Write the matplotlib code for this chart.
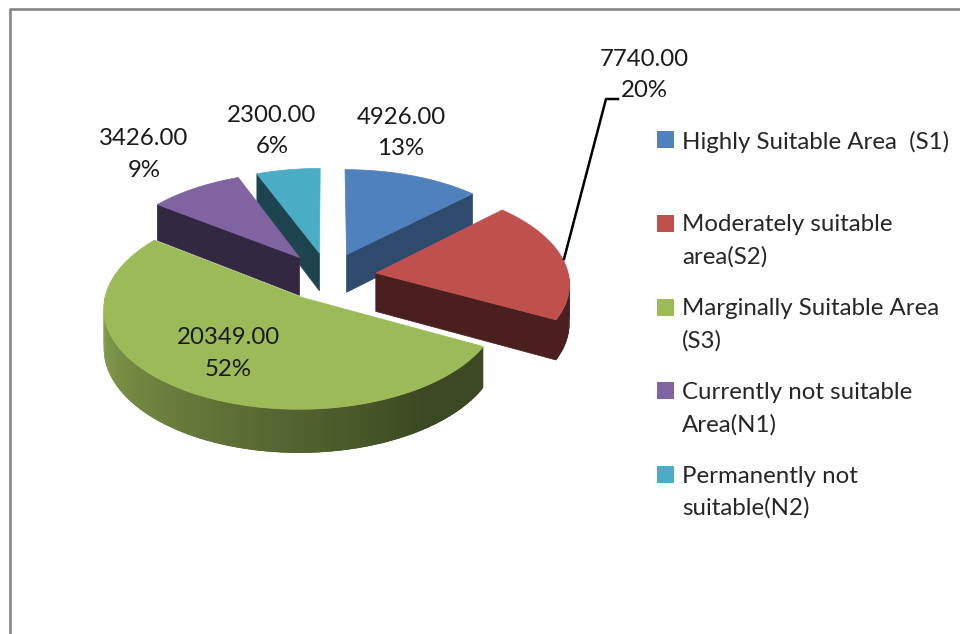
import numpy as np
import matplotlib
matplotlib.use('Agg')
import matplotlib.pyplot as plt
from matplotlib.colors import to_rgb

plt.rcParams['font.family'] = ['Lato', 'DejaVu Sans']

# chart data
labels = ['Highly Suitable Area  (S1)', 'Moderately suitable\narea(S2)',
          'Marginally Suitable Area\n(S3)', 'Currently not suitable\nArea(N1)',
          'Permanently not\nsuitable(N2)']
values = [4926.00, 7740.00, 20349.00, 3426.00, 2300.00]
percents = [13, 20, 52, 9, 6]
colors = ['#4F81BD', '#C0504D', '#9BBB59', '#8064A2', '#4BACC6']
cut_shade = [0.58, 0.39, 0.39, 0.40, 0.40]
label_pos = [(401, 133), (644, 75), (228, 353.5), (144, 154.5), (272, 131)]

# pie geometry in pixels
CX, CY = 328.2, 276.5
RX, RY = 193, 97
EXPLODE = 0.25
PERSP = 0.095
DEPTH = 38.5


def project(u, v, lower=False):
    p = 1 / (1 + PERSP * v)
    return CX + RX * u * p, CY - RY * v * p + (DEPTH * p if lower else 0)


def arc_shade(t):
    # front wall goes from dark on the right to light on the left
    return np.interp(t, [90, 145, 270], [0.39, 0.39, 0.88])


def shaded(color, s):
    return tuple(c * s for c in to_rgb(color))


fig = plt.figure(figsize=(9.6, 6.34), dpi=100)
ax = fig.add_axes([0, 0, 1, 1])
ax.set_xlim(0, 960)
ax.set_ylim(634, 0)
ax.axis('off')

# chart border, only top and left are inside the crop
ax.plot([960, 9.5, 9.5], [9, 9, 634], color='#868686', lw=1.9)

total = sum(values)
edges = np.concatenate([[0], np.cumsum(values) / total * 360])
slices = []
for i in range(len(values)):
    t1, t2 = edges[i], edges[i + 1]
    mid = np.radians((t1 + t2) / 2)
    slices.append((np.cos(mid), i, t1, t2, EXPLODE * np.sin(mid), EXPLODE * np.cos(mid)))

# back slices first
for _, i, t1, t2, ou, ov in sorted(slices, key=lambda s: -s[0]):
    col = colors[i]

    def rim(t):
        a = np.radians(t)
        return ou + np.sin(a), ov + np.cos(a)

    # cut faces
    for t, vis in ((t1, np.sin(np.radians(t1)) < -1e-6), (t2, np.sin(np.radians(t2)) > 1e-6)):
        if vis:
            u, v = rim(t)
            a, b = project(ou, ov), project(u, v)
            c, d = project(u, v, True), project(ou, ov, True)
            ax.fill([a[0], b[0], c[0], d[0]], [a[1], b[1], c[1], d[1]],
                    color=shaded(col, cut_shade[i]), lw=0.5)

    # outer wall, each strip overlaps the next one so no seams show
    lo, hi = max(t1, 90), min(t2, 270)
    if hi > lo:
        steps = np.linspace(lo, hi, int(hi - lo) + 2)
        for s1, s2 in zip(steps[:-1], steps[1:]):
            arc = np.linspace(s1, min(s2 + 1.5, hi), 5)
            us, vs = rim(arc)
            xt, yt = project(us, vs)
            xb, yb = project(us, vs, True)
            ax.fill(np.r_[xt, xb[::-1]], np.r_[yt, yb[::-1]],
                    color=shaded(col, arc_shade((s1 + s2) / 2)), lw=0)

    # top face
    ts = np.linspace(t1, t2, 120)
    us, vs = rim(ts)
    xs, ys = project(us, vs)
    tx, ty = project(ou, ov)
    ax.fill(np.r_[tx, xs], np.r_[ty, ys], color=col, lw=0.5)

# data labels
for v, pct, (x, y) in zip(values, percents, label_pos):
    ax.text(x, y, f'{v:.2f}\n{pct}%', ha='center', va='center',
            fontsize=17.3, color='#1a1a1a', linespacing=1.62)

# leader line of the second label
ax.plot([618, 606, 564], [99, 99, 259], color='black', lw=1.8)

# legend
for i, lab in enumerate(labels):
    y = 139.5 + 83.8 * i
    ax.fill([657, 674, 674, 657], [y - 8.5, y - 8.5, y + 8.5, y + 8.5], color=colors[i], lw=0)
    ax.text(682, y - 9, lab, ha='left', va='top', fontsize=17.3, color='#262626', linespacing=1.62)

fig.savefig('out.png', dpi=100)
